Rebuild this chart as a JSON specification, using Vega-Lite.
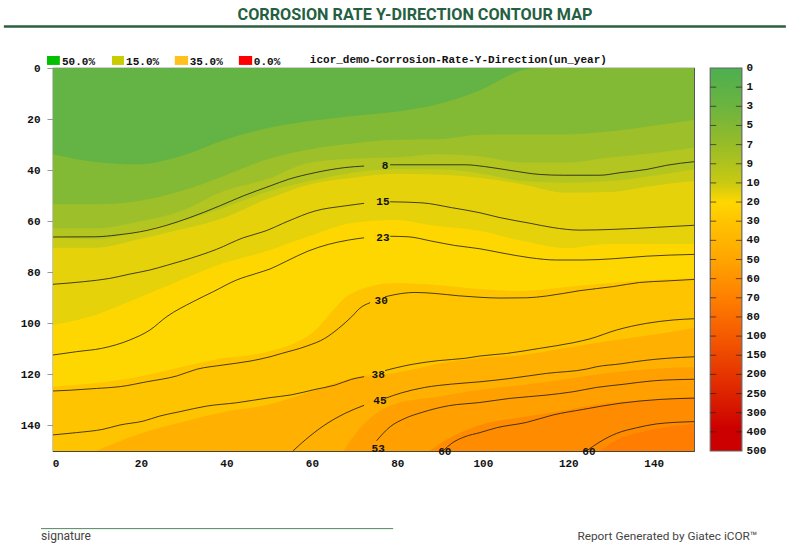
{
"$schema":"https://vega.github.io/schema/vega-lite/v6.json",
"width":641,"height":383,
"autosize":{"type":"none"},
"padding":{"left":53,"top":68,"right":92,"bottom":93},
"background":"white",
"config":{"view":{"stroke":"#444","strokeWidth":1.2},"text":{"font":"Liberation Mono","fontSize":11,"fontWeight":"bold","color":"#111"}},
"title":{"text":"CORROSION RATE Y-DIRECTION CONTOUR MAP","anchor":"middle","frame":"group","dx":41.5,"offset":2,"font":"Roboto","fontSize":16.2,"fontWeight":"bold","color":"#24603f"},
"resolve":{"scale":{"color":"independent"}},
"datasets":{
"bands":[
{"b":"b0","x":0,"y":0},{"b":"b0","x":150,"y":0},
{"b":"b1","x":0,"y":33.8},{"b":"b1","x":10,"y":36.8},{"b":"b1","x":20,"y":37.7},{"b":"b1","x":30,"y":34.5},{"b":"b1","x":40,"y":28.2},{"b":"b1","x":50,"y":23.6},{"b":"b1","x":60,"y":20.8},{"b":"b1","x":70,"y":18.8},{"b":"b1","x":80,"y":17.1},{"b":"b1","x":90,"y":14.2},{"b":"b1","x":100,"y":8.6},{"b":"b1","x":110,"y":0.8},{"b":"b1","x":113,"y":0},{"b":"b1","x":150,"y":0},
{"b":"b2","x":0,"y":53.4},{"b":"b2","x":10,"y":53.4},{"b":"b2","x":20,"y":52.1},{"b":"b2","x":30,"y":48.2},{"b":"b2","x":40,"y":42.3},{"b":"b2","x":50,"y":35.8},{"b":"b2","x":60,"y":31.9},{"b":"b2","x":70,"y":29.6},{"b":"b2","x":80,"y":28.1},{"b":"b2","x":90,"y":27.9},{"b":"b2","x":100,"y":26.1},{"b":"b2","x":110,"y":26},{"b":"b2","x":120,"y":26},{"b":"b2","x":130,"y":24.9},{"b":"b2","x":140,"y":22.7},{"b":"b2","x":150,"y":20.4},
{"b":"b3","x":0,"y":62.8},{"b":"b3","x":10,"y":62.8},{"b":"b3","x":20,"y":60.2},{"b":"b3","x":30,"y":56},{"b":"b3","x":40,"y":48.2},{"b":"b3","x":50,"y":43.6},{"b":"b3","x":60,"y":37.1},{"b":"b3","x":70,"y":35.5},{"b":"b3","x":80,"y":35.1},{"b":"b3","x":90,"y":33.8},{"b":"b3","x":100,"y":34.7},{"b":"b3","x":110,"y":37.1},{"b":"b3","x":120,"y":37.1},{"b":"b3","x":130,"y":35.1},{"b":"b3","x":140,"y":33.4},{"b":"b3","x":150,"y":31.2},
{"b":"b4","x":0,"y":66.2},{"b":"b4","x":10,"y":67.1},{"b":"b4","x":20,"y":63.8},{"b":"b4","x":30,"y":59.9},{"b":"b4","x":40,"y":54.7},{"b":"b4","x":50,"y":48.6},{"b":"b4","x":60,"y":44.3},{"b":"b4","x":70,"y":41},{"b":"b4","x":80,"y":39.7},{"b":"b4","x":90,"y":39.7},{"b":"b4","x":100,"y":41.3},{"b":"b4","x":110,"y":44.3},{"b":"b4","x":120,"y":44.9},{"b":"b4","x":130,"y":44.3},{"b":"b4","x":140,"y":42.3},{"b":"b4","x":150,"y":39.7},
{"b":"b5","x":0,"y":70.4},{"b":"b5","x":10,"y":70.4},{"b":"b5","x":20,"y":67.1},{"b":"b5","x":30,"y":63.2},{"b":"b5","x":40,"y":58.6},{"b":"b5","x":50,"y":51.4},{"b":"b5","x":60,"y":45.6},{"b":"b5","x":70,"y":43},{"b":"b5","x":80,"y":41.4},{"b":"b5","x":90,"y":41.7},{"b":"b5","x":100,"y":43},{"b":"b5","x":110,"y":45.6},{"b":"b5","x":120,"y":48.8},{"b":"b5","x":130,"y":48.6},{"b":"b5","x":140,"y":46.2},{"b":"b5","x":150,"y":44.3},
{"b":"b6","x":0,"y":100.7},{"b":"b6","x":10,"y":96.7},{"b":"b6","x":20,"y":90},{"b":"b6","x":30,"y":83},{"b":"b6","x":40,"y":76.4},{"b":"b6","x":50,"y":71.7},{"b":"b6","x":60,"y":65.8},{"b":"b6","x":70,"y":60.7},{"b":"b6","x":80,"y":59.5},{"b":"b6","x":90,"y":61.9},{"b":"b6","x":100,"y":63.8},{"b":"b6","x":110,"y":67.8},{"b":"b6","x":120,"y":70.5},{"b":"b6","x":130,"y":68.9},{"b":"b6","x":140,"y":68.9},{"b":"b6","x":150,"y":68.9},
{"b":"b7","x":0,"y":124.8},{"b":"b7","x":10,"y":123.4},{"b":"b7","x":20,"y":120.9},{"b":"b7","x":30,"y":117.1},{"b":"b7","x":40,"y":113.6},{"b":"b7","x":50,"y":111.2},{"b":"b7","x":60,"y":104.6},{"b":"b7","x":70,"y":88.1},{"b":"b7","x":80,"y":84.2},{"b":"b7","x":90,"y":85},{"b":"b7","x":100,"y":86.6},{"b":"b7","x":110,"y":87.3},{"b":"b7","x":120,"y":85.8},{"b":"b7","x":130,"y":84.2},{"b":"b7","x":140,"y":83},{"b":"b7","x":150,"y":82.3},
{"b":"b8","x":10,"y":150},{"b":"b8","x":20,"y":143.4},{"b":"b8","x":30,"y":138.7},{"b":"b8","x":40,"y":134.7},{"b":"b8","x":50,"y":132},{"b":"b8","x":60,"y":126.9},{"b":"b8","x":70,"y":121.4},{"b":"b8","x":80,"y":119.5},{"b":"b8","x":90,"y":115.9},{"b":"b8","x":100,"y":113.6},{"b":"b8","x":110,"y":112.4},{"b":"b8","x":120,"y":109.7},{"b":"b8","x":130,"y":106.9},{"b":"b8","x":140,"y":104.6},{"b":"b8","x":150,"y":101.8},
{"b":"b9","x":68,"y":150},{"b":"b9","x":70,"y":145},{"b":"b9","x":80,"y":131.6},{"b":"b9","x":90,"y":128.8},{"b":"b9","x":100,"y":126},{"b":"b9","x":110,"y":124.2},{"b":"b9","x":120,"y":121.9},{"b":"b9","x":130,"y":119.5},{"b":"b9","x":140,"y":117.9},{"b":"b9","x":150,"y":117.1},
{"b":"b10","x":88,"y":150},{"b":"b10","x":90,"y":147.7},{"b":"b10","x":100,"y":139.8},{"b":"b10","x":110,"y":136.7},{"b":"b10","x":120,"y":134},{"b":"b10","x":130,"y":131.2},{"b":"b10","x":140,"y":130},{"b":"b10","x":150,"y":128.8},
{"b":"b11","x":128,"y":150},{"b":"b11","x":130,"y":147.6},{"b":"b11","x":140,"y":141.7},{"b":"b11","x":150,"y":139.4}
],
"contours":[
{"c":"8a","x":0,"y":66.2},{"c":"8a","x":10,"y":66.1},{"c":"8a","x":15,"y":65.4},{"c":"8a","x":22,"y":63.6},{"c":"8a","x":26.6,"y":61.6},{"c":"8a","x":32,"y":58.6},{"c":"8a","x":39,"y":54},{"c":"8a","x":44.5,"y":50.1},{"c":"8a","x":50.8,"y":46.2},{"c":"8a","x":55.1,"y":43.6},{"c":"8a","x":61.3,"y":41},{"c":"8a","x":68.3,"y":39},{"c":"8a","x":72.8,"y":38.4},
{"c":"8b","x":78.9,"y":37.9},{"c":"8b","x":96.4,"y":37.9},{"c":"8b","x":101,"y":38.6},{"c":"8b","x":107.7,"y":40.3},{"c":"8b","x":114,"y":41.7},{"c":"8b","x":119.4,"y":42},{"c":"8b","x":128,"y":42},{"c":"8b","x":132.7,"y":41},{"c":"8b","x":139,"y":39.7},{"c":"8b","x":143.6,"y":38.1},{"c":"8b","x":150,"y":36.7},
{"c":"15a","x":0,"y":84.7},{"c":"15a","x":7.1,"y":83.7},{"c":"15a","x":13.3,"y":82.4},{"c":"15a","x":18,"y":80.7},{"c":"15a","x":22.7,"y":79.1},{"c":"15a","x":26.8,"y":77.2},{"c":"15a","x":30.5,"y":75.4},{"c":"15a","x":38.3,"y":71},{"c":"15a","x":44.5,"y":66.5},{"c":"15a","x":49.6,"y":63.9},{"c":"15a","x":55,"y":60},{"c":"15a","x":61.3,"y":56},{"c":"15a","x":68.3,"y":54},{"c":"15a","x":72.8,"y":53},
{"c":"15b","x":78.9,"y":52.4},{"c":"15b","x":86.3,"y":52.8},{"c":"15b","x":93.3,"y":54.7},{"c":"15b","x":99.9,"y":56.7},{"c":"15b","x":104.6,"y":58.6},{"c":"15b","x":111.6,"y":60.8},{"c":"15b","x":117,"y":62.5},{"c":"15b","x":123.3,"y":63.5},{"c":"15b","x":131.1,"y":63.2},{"c":"15b","x":141.2,"y":62.4},{"c":"15b","x":150,"y":61.6},
{"c":"23a","x":0,"y":112.4},{"c":"23a","x":5.5,"y":111.1},{"c":"23a","x":11.4,"y":109.8},{"c":"23a","x":18,"y":106.5},{"c":"23a","x":22.7,"y":102.6},{"c":"23a","x":26.6,"y":97.4},{"c":"23a","x":32.8,"y":91.5},{"c":"23a","x":37.5,"y":87.6},{"c":"23a","x":43,"y":83},{"c":"23a","x":47.7,"y":80.4},{"c":"23a","x":50.8,"y":78.7},{"c":"23a","x":54.7,"y":75.6},{"c":"23a","x":59.7,"y":71.7},{"c":"23a","x":64.4,"y":69.1},{"c":"23a","x":69.1,"y":67.4},{"c":"23a","x":72.8,"y":66.5},
{"c":"23b","x":78.9,"y":65.9},{"c":"23b","x":83.1,"y":66.1},{"c":"23b","x":88.6,"y":67.8},{"c":"23b","x":94,"y":69.5},{"c":"23b","x":99.9,"y":70.8},{"c":"23b","x":104.6,"y":72.3},{"c":"23b","x":111.6,"y":74.3},{"c":"23b","x":117.8,"y":75.2},{"c":"23b","x":124,"y":75.2},{"c":"23b","x":131.1,"y":74.7},{"c":"23b","x":138.9,"y":73.7},{"c":"23b","x":150,"y":73},
{"c":"30a","x":0,"y":126.5},{"c":"30a","x":4,"y":126.2},{"c":"30a","x":10.2,"y":125.5},{"c":"30a","x":15.7,"y":124.8},{"c":"30a","x":21.9,"y":122.9},{"c":"30a","x":29,"y":120.6},{"c":"30a","x":33.6,"y":118},{"c":"30a","x":39.9,"y":116.3},{"c":"30a","x":46.1,"y":114.8},{"c":"30a","x":50.8,"y":113.1},{"c":"30a","x":53.5,"y":111.8},{"c":"30a","x":59.4,"y":108.9},{"c":"30a","x":63.6,"y":105.9},{"c":"30a","x":66.8,"y":102},{"c":"30a","x":69.9,"y":97.4},{"c":"30a","x":71.8,"y":94.1},{"c":"30a","x":74.2,"y":91.9},
{"c":"30b","x":77.7,"y":89.6},{"c":"30b","x":81.6,"y":88.3},{"c":"30b","x":84.7,"y":87.9},{"c":"30b","x":89.4,"y":88.3},{"c":"30b","x":94.8,"y":89.2},{"c":"30b","x":99.9,"y":89.8},{"c":"30b","x":104.6,"y":90.1},{"c":"30b","x":110.8,"y":90},{"c":"30b","x":115.5,"y":89.3},{"c":"30b","x":123.3,"y":87.2},{"c":"30b","x":131.1,"y":85.6},{"c":"30b","x":137.3,"y":84},{"c":"30b","x":143.6,"y":83.4},{"c":"30b","x":150,"y":82.8},
{"c":"38a","x":0,"y":143.7},{"c":"38a","x":5.5,"y":142.8},{"c":"38a","x":11.7,"y":141.5},{"c":"38a","x":15.7,"y":139.8},{"c":"38a","x":21.1,"y":138.3},{"c":"38a","x":25,"y":136.3},{"c":"38a","x":29.7,"y":134.6},{"c":"38a","x":36,"y":132.4},{"c":"38a","x":43,"y":131.1},{"c":"38a","x":50.8,"y":129.1},{"c":"38a","x":55.8,"y":128},{"c":"38a","x":61.3,"y":125.9},{"c":"38a","x":66,"y":124.2},{"c":"38a","x":69.9,"y":121.9},{"c":"38a","x":72.8,"y":120.9},
{"c":"38b","x":77.7,"y":118.5},{"c":"38b","x":82.4,"y":116.6},{"c":"38b","x":90.2,"y":114.6},{"c":"38b","x":96.4,"y":113.7},{"c":"38b","x":99.9,"y":112.8},{"c":"38b","x":106.1,"y":111.8},{"c":"38b","x":113.9,"y":109.8},{"c":"38b","x":121.7,"y":107.6},{"c":"38b","x":125.6,"y":106.1},{"c":"38b","x":131.9,"y":102.6},{"c":"38b","x":138.9,"y":100},{"c":"38b","x":145.1,"y":98.7},{"c":"38b","x":150,"y":98.2},
{"c":"45a","x":56.2,"y":149.9},{"c":"45a","x":59,"y":145.7},{"c":"45a","x":63.6,"y":139.8},{"c":"45a","x":68.3,"y":135.3},{"c":"45a","x":72.8,"y":132.1},
{"c":"45b","x":77.7,"y":129.4},{"c":"45b","x":81.6,"y":127.2},{"c":"45b","x":87,"y":125.1},{"c":"45b","x":93.3,"y":123.8},{"c":"45b","x":99.9,"y":122.9},{"c":"45b","x":106.9,"y":121.6},{"c":"45b","x":115.5,"y":119.6},{"c":"45b","x":124.9,"y":117.9},{"c":"45b","x":127.2,"y":117},{"c":"45b","x":132.7,"y":115.9},{"c":"45b","x":138.1,"y":114.6},{"c":"45b","x":143.6,"y":113.7},{"c":"45b","x":150,"y":113.1},
{"c":"53","x":75.7,"y":146},{"c":"53","x":78.9,"y":140.5},{"c":"53","x":82.4,"y":137.2},{"c":"53","x":86.3,"y":134.9},{"c":"53","x":92.5,"y":132.3},{"c":"53","x":99.9,"y":131},{"c":"53","x":106.9,"y":129.4},{"c":"53","x":115.5,"y":128.1},{"c":"53","x":121.7,"y":126.8},{"c":"53","x":127.2,"y":125.1},{"c":"53","x":133.4,"y":123.9},{"c":"53","x":140.5,"y":122.5},{"c":"53","x":150,"y":121.9},
{"c":"60a","x":91.3,"y":149.9},{"c":"60a","x":93.3,"y":147},{"c":"60a","x":96.4,"y":144.4},{"c":"60a","x":99.9,"y":142.8},{"c":"60a","x":103.8,"y":140.9},{"c":"60a","x":110.8,"y":138.8},{"c":"60a","x":117,"y":135.9},{"c":"60a","x":124.1,"y":133.7},{"c":"60a","x":132.7,"y":131.3},{"c":"60a","x":142,"y":129.8},{"c":"60a","x":150,"y":129.3},
{"c":"60b","x":124.9,"y":149.9},{"c":"60b","x":128,"y":146.4},{"c":"60b","x":131.9,"y":143.1},{"c":"60b","x":136.6,"y":140.9},{"c":"60b","x":141.2,"y":139.4},{"c":"60b","x":150,"y":138.5}
],
"contour_labels":[
{"t":"8","x":77.7,"y":38.4},{"t":"15","x":77.2,"y":52.5},{"t":"23","x":77.2,"y":66.6},{"t":"30","x":76.8,"y":91.3},{"t":"38","x":76.1,"y":120.3},{"t":"45","x":76.5,"y":130.5},{"t":"53","x":76.1,"y":149.2},{"t":"60","x":91.7,"y":150.4},{"t":"60","x":125.4,"y":150.4}
],
"scale_bar":[{"x":153.8,"x2":161.2,"y":0,"y2":150}],
"scale_ticks":[
{"x":153.8,"x2":155.2,"y":7.5},{"x":153.8,"x2":155.2,"y":15},{"x":153.8,"x2":155.2,"y":22.5},{"x":153.8,"x2":155.2,"y":30},{"x":153.8,"x2":155.2,"y":37.5},{"x":153.8,"x2":155.2,"y":45},{"x":153.8,"x2":155.2,"y":52.5},{"x":153.8,"x2":155.2,"y":60},{"x":153.8,"x2":155.2,"y":67.5},{"x":153.8,"x2":155.2,"y":75},{"x":153.8,"x2":155.2,"y":82.5},{"x":153.8,"x2":155.2,"y":90},{"x":153.8,"x2":155.2,"y":97.5},{"x":153.8,"x2":155.2,"y":105},{"x":153.8,"x2":155.2,"y":112.5},{"x":153.8,"x2":155.2,"y":120},{"x":153.8,"x2":155.2,"y":127.5},{"x":153.8,"x2":155.2,"y":135},{"x":153.8,"x2":155.2,"y":142.5},
{"x":159.8,"x2":161.2,"y":7.5},{"x":159.8,"x2":161.2,"y":15},{"x":159.8,"x2":161.2,"y":22.5},{"x":159.8,"x2":161.2,"y":30},{"x":159.8,"x2":161.2,"y":37.5},{"x":159.8,"x2":161.2,"y":45},{"x":159.8,"x2":161.2,"y":52.5},{"x":159.8,"x2":161.2,"y":60},{"x":159.8,"x2":161.2,"y":67.5},{"x":159.8,"x2":161.2,"y":75},{"x":159.8,"x2":161.2,"y":82.5},{"x":159.8,"x2":161.2,"y":90},{"x":159.8,"x2":161.2,"y":97.5},{"x":159.8,"x2":161.2,"y":105},{"x":159.8,"x2":161.2,"y":112.5},{"x":159.8,"x2":161.2,"y":120},{"x":159.8,"x2":161.2,"y":127.5},{"x":159.8,"x2":161.2,"y":135},{"x":159.8,"x2":161.2,"y":142.5}
],
"scale_labels":[
{"t":"0","x":162.3,"y":0},{"t":"1","x":162.3,"y":7.5},{"t":"3","x":162.3,"y":15},{"t":"5","x":162.3,"y":22.5},{"t":"7","x":162.3,"y":30},{"t":"9","x":162.3,"y":37.5},{"t":"10","x":162.3,"y":45},{"t":"20","x":162.3,"y":52.5},{"t":"30","x":162.3,"y":60},{"t":"40","x":162.3,"y":67.5},{"t":"50","x":162.3,"y":75},{"t":"60","x":162.3,"y":82.5},{"t":"70","x":162.3,"y":90},{"t":"80","x":162.3,"y":97.5},{"t":"100","x":162.3,"y":105},{"t":"150","x":162.3,"y":112.5},{"t":"200","x":162.3,"y":120},{"t":"250","x":162.3,"y":127.5},{"t":"300","x":162.3,"y":135},{"t":"400","x":162.3,"y":142.5},{"t":"500","x":162.3,"y":150}
],
"legend_swatches":[
{"k":"50.0%","x":-1.4,"x2":1.6,"y":-4.7,"y2":-1.2},{"k":"15.0%","x":13.8,"x2":16.6,"y":-4.7,"y2":-1.2},{"k":"35.0%","x":28.5,"x2":31.6,"y":-4.7,"y2":-1.2},{"k":"0.0%","x":43.5,"x2":46.6,"y":-4.7,"y2":-1.2}
],
"legend_labels":[
{"t":"50.0%","x":2.1,"y":-2.3},{"t":"15.0%","x":17.1,"y":-2.3},{"t":"35.0%","x":32,"y":-2.3},{"t":"0.0%","x":47,"y":-2.3},
{"t":"icor_demo-Corrosion-Rate-Y-Direction(un_year)","x":60.1,"y":-3}
],
"header_rule":[{"x":-11.5,"x2":171.5,"y":-16.3}],
"signature_rule":[{"x":-2.8,"x2":79.6,"y":180.4}],
"signature_text":[{"t":"signature","x":-2.8,"y":183.4}],
"report_text":[{"t":"Report Generated by Giatec iCOR™","x":164.8,"y":183.4}]
},
"encoding":{
"x":{"field":"x","type":"quantitative","scale":{"domain":[0,150],"nice":false,"zero":false},
"axis":{"title":null,"values":[0,20,40,60,80,100,120,140],"grid":false,"ticks":false,"domain":false,"labelFont":"Liberation Mono","labelFontSize":11,"labelFontWeight":"bold","labelColor":"#111","labelOffset":2.5,"labelPadding":6,"labelFlush":false,"labelOverlap":false}},
"y":{"field":"y","type":"quantitative","stack":null,"scale":{"domain":[150,0],"nice":false,"zero":false},
"axis":{"title":null,"values":[0,20,40,60,80,100,120,140],"grid":false,"tickColor":"#999","tickSize":6,"domain":false,"labelFont":"Liberation Mono","labelFontSize":11,"labelFontWeight":"bold","labelColor":"#111","labelPadding":7,"labelOverlap":false}}
},
"layer":[
{"data":{"name":"bands"},"mark":{"type":"area","interpolate":"monotone","clip":true},
 "encoding":{"y2":{"datum":150},"color":{"field":"b","type":"nominal","legend":null,"scale":{"domain":["b0","b1","b2","b3","b4","b5","b6","b7","b8","b9","b10","b11"],"range":["#63b345","#82b935","#9dc02a","#b2c520","#c9cb14","#e5d20b","#ffd700","#ffc400","#ffb000","#ff9f00","#ff8c00","#ff7d00"]}}}},
{"data":{"name":"contours"},"mark":{"type":"line","stroke":"#111","strokeWidth":0.9,"opacity":0.85,"clip":true,"interpolate":"monotone"},"encoding":{"detail":{"field":"c"}}},
{"data":{"name":"contour_labels"},"mark":{"type":"text","align":"center","baseline":"middle"},"encoding":{"text":{"field":"t"}}},
{"data":{"name":"scale_bar"},"mark":{"type":"rect","stroke":"#666","strokeWidth":1.2,"fill":{"gradient":"linear","x1":0,"y1":0,"x2":0,"y2":1,"stops":[{"offset":0,"color":"#4caf50"},{"offset":0.1,"color":"#6cb43f"},{"offset":0.2,"color":"#97bc28"},{"offset":0.3,"color":"#c9c912"},{"offset":0.35,"color":"#ffd700"},{"offset":0.4,"color":"#ffc400"},{"offset":0.5,"color":"#ffa500"},{"offset":0.6,"color":"#ff7f00"},{"offset":0.7,"color":"#f55a00"},{"offset":0.8,"color":"#e63500"},{"offset":0.9,"color":"#d41100"},{"offset":0.94,"color":"#cc0000"},{"offset":1,"color":"#cc0000"}]}},"encoding":{"x2":{"field":"x2"},"y2":{"field":"y2"}}},
{"data":{"name":"scale_ticks"},"mark":{"type":"rule","stroke":"#222","strokeWidth":1,"opacity":0.7},"encoding":{"x2":{"field":"x2"}}},
{"data":{"name":"scale_labels"},"mark":{"type":"text","align":"left","baseline":"middle"},"encoding":{"text":{"field":"t"}}},
{"data":{"name":"legend_swatches"},"mark":{"type":"rect"},"encoding":{"x2":{"field":"x2"},"y2":{"field":"y2"},"color":{"field":"k","type":"nominal","legend":null,"scale":{"domain":["50.0%","15.0%","35.0%","0.0%"],"range":["#00c000","#c8cc00","#ffc020","#ff0000"]}}}},
{"data":{"name":"legend_labels"},"mark":{"type":"text","align":"left","baseline":"middle"},"encoding":{"text":{"field":"t"}}},
{"data":{"name":"header_rule"},"mark":{"type":"rule","stroke":"#2c5f41","strokeWidth":2.5},"encoding":{"x2":{"field":"x2"}}},
{"data":{"name":"signature_rule"},"mark":{"type":"rule","stroke":"#4f8a5f","strokeWidth":1},"encoding":{"x2":{"field":"x2"}}},
{"data":{"name":"signature_text"},"mark":{"type":"text","align":"left","baseline":"middle","font":"Roboto","fontWeight":"normal","fontSize":12,"color":"#444"},"encoding":{"text":{"field":"t"}}},
{"data":{"name":"report_text"},"mark":{"type":"text","align":"right","baseline":"middle","font":"Roboto","fontWeight":"normal","fontSize":11.8,"color":"#444"},"encoding":{"text":{"field":"t"}}}
]
}
